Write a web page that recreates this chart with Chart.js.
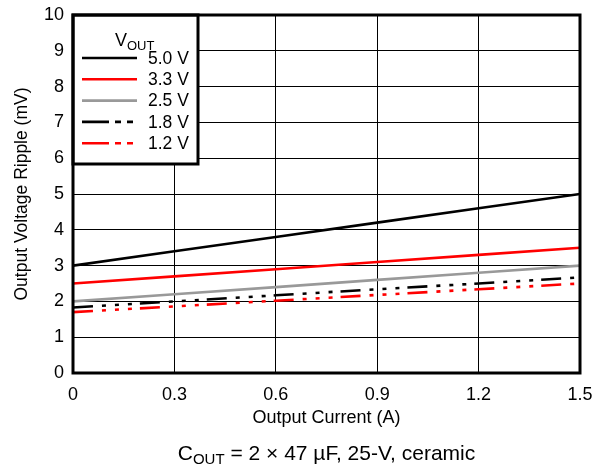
<!DOCTYPE html>
<html>
<head>
<meta charset="utf-8">
<script src="https://cdn.jsdelivr.net/npm/chart.js@4/dist/chart.umd.min.js"></script>
<style>
  html, body { margin: 0; padding: 0; background: #fff; }
  #wrap { width: 594px; height: 466px; position: relative; }
</style>
</head>
<body>
<div id="wrap"><canvas id="chart" width="594" height="466"></canvas></div>
<script>
// ── Data ───────────────────────────────────────────────────────────────────────
const currents = [0, 0.3, 0.6, 0.9, 1.2, 1.5];
const vout50 = [3.0, 3.4, 3.8, 4.2, 4.6, 5.0];
const vout33 = [2.5, 2.7, 2.9, 3.1, 3.3, 3.5];
const vout25 = [2.0, 2.2, 2.4, 2.6, 2.8, 3.0];
const vout18 = [1.83, 2.0, 2.17, 2.34, 2.5, 2.67];
const vout12 = [1.7, 1.86, 2.02, 2.18, 2.34, 2.5];
const seriesLabels = ['5.0 V', '3.3 V', '2.5 V', '1.8 V', '1.2 V'];
const xTicks = [0, 0.3, 0.6, 0.9, 1.2, 1.5];

const FONT = 'Liberation Sans, Arial, Helvetica, sans-serif';
const DASH = [20, 9, 4, 9, 4, 9, 4, 8];
const LEGEND_DASH = [27, 6, 6, 6, 6, 6];

function pts(vals) {
  return currents.map((x, i) => ({ x, y: vals[i] }));
}

function line(label, vals, color, dashed) {
  return {
    label,
    data: pts(vals),
    borderColor: color,
    borderWidth: 2.6,
    borderDash: dashed ? DASH : [],
    borderCapStyle: 'butt',
    pointRadius: 0,
    fill: false,
    tension: 0,
  };
}

// ── Frame, legend box and caption ───────────────────────────────────────────────
const decorPlugin = {
  id: 'decor',
  afterDatasetsDraw(chart) {
    const { ctx, chartArea: a } = chart;
    ctx.save();

    // legend box
    const lx = a.left, ly = a.top, lw = 125, lh = 149;
    ctx.fillStyle = '#fff';
    ctx.fillRect(lx, ly, lw, lh);
    ctx.lineWidth = 3;
    ctx.strokeStyle = '#000';
    ctx.strokeRect(lx, ly, lw, lh);

    ctx.fillStyle = '#000';
    ctx.textBaseline = 'alphabetic';
    ctx.textAlign = 'left';
    ctx.font = '18px ' + FONT;
    ctx.fillText('V', lx + 42, ly + 31);
    const vW = ctx.measureText('V').width;
    ctx.font = '13px ' + FONT;
    ctx.fillText('OUT', lx + 42 + vW, ly + 35);

    ctx.font = '17.5px ' + FONT;
    ctx.textBaseline = 'middle';
    chart.data.datasets.forEach((ds, i) => {
      const y = ly + 43 + i * 21.3;
      ctx.beginPath();
      ctx.setLineDash(ds.borderDash.length ? LEGEND_DASH : []);
      ctx.lineWidth = 2.6;
      ctx.strokeStyle = ds.borderColor;
      ctx.moveTo(lx + 9, y);
      ctx.lineTo(lx + 64, y);
      ctx.stroke();
      ctx.setLineDash([]);
      ctx.fillStyle = '#000';
      ctx.fillText(ds.label, lx + 75, y + 1);
    });

    // plot frame
    ctx.lineWidth = 3;
    ctx.strokeStyle = '#000';
    ctx.strokeRect(a.left, a.top, a.right - a.left, a.bottom - a.top);

    // caption under the x axis title
    const cx = (a.left + a.right) / 2;
    const by = 460;
    ctx.textBaseline = 'alphabetic';
    ctx.textAlign = 'left';
    const big = '21px ' + FONT, small = '15px ' + FONT;
    const rest = ' = 2 \u00d7 47 \u00b5F, 25-V, ceramic';
    ctx.font = big;
    const wC = ctx.measureText('C').width;
    const wR = ctx.measureText(rest).width;
    ctx.font = small;
    const wS = ctx.measureText('OUT').width;
    let x = cx - (wC + wS + wR) / 2;
    ctx.font = big;
    ctx.fillText('C', x, by);
    x += wC;
    ctx.font = small;
    ctx.fillText('OUT', x, by + 4);
    x += wS;
    ctx.font = big;
    ctx.fillText(rest, x, by);

    ctx.restore();
  },
};

new Chart(document.getElementById('chart'), {
  type: 'line',
  data: {
    datasets: [
      line(seriesLabels[0], vout50, '#000000', false),
      line(seriesLabels[1], vout33, '#ff0000', false),
      line(seriesLabels[2], vout25, '#999999', false),
      line(seriesLabels[3], vout18, '#000000', true),
      line(seriesLabels[4], vout12, '#ff0000', true),
    ],
  },
  options: {
    responsive: false,
    animation: false,
    layout: { padding: { top: 15, right: 14, bottom: 0, left: 0 } },
    plugins: {
      legend: { display: false },
      tooltip: { enabled: false },
    },
    scales: {
      x: {
        type: 'linear',
        min: 0,
        max: 1.5,
        afterBuildTicks: s => { s.ticks = xTicks.map(v => ({ value: v })); },
        afterFit: s => { s.height = 93; s.paddingLeft = 0; s.paddingRight = 0; },
        grid: { color: '#000', lineWidth: 1, drawTicks: false },
        border: { display: false },
        ticks: {
          padding: 11,
          color: '#000',
          font: { size: 18, family: FONT },
          callback: v => String(v),
        },
        title: {
          display: true,
          text: 'Output Current (A)',
          color: '#000',
          font: { size: 18, family: FONT },
          padding: { top: 0, bottom: 37 },
        },
      },
      y: {
        min: 0,
        max: 10,
        afterFit: s => { s.width = 73; s.paddingTop = 0; s.paddingBottom = 0; },
        grid: { color: '#000', lineWidth: 1, drawTicks: false },
        border: { display: false },
        ticks: {
          stepSize: 1,
          padding: 9,
          color: '#000',
          font: { size: 18, family: FONT },
        },
        title: {
          display: true,
          text: 'Output Voltage Ripple (mV)',
          color: '#000',
          font: { size: 17.5, family: FONT },
          padding: { top: 12, bottom: 0 },
        },
      },
    },
  },
  plugins: [decorPlugin],
});
</script>
</body>
</html>
